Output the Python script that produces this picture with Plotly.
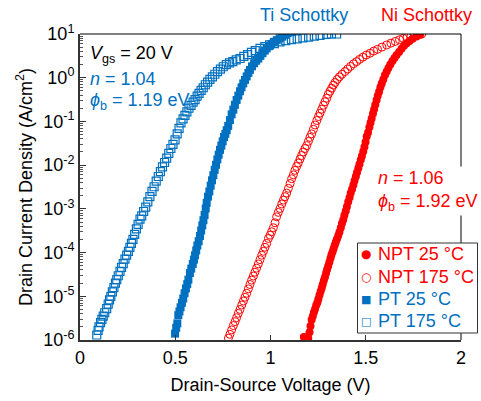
import plotly.graph_objects as go

# ---------------- data ----------------
pt175_v = [0.088,0.095,0.100,0.108,0.115,0.122,0.130,0.140,0.148,0.155,0.162,0.170,0.178,0.186,0.193,0.201,
           0.210,0.218,0.227,0.236,0.245,0.254,0.262,0.270,0.278,0.287,0.296,0.305,0.315,0.324,0.334,0.345,
           0.356,0.367,0.378,0.389,0.400,0.411,0.422,0.433,0.444,0.455,0.466,0.477,0.488,0.499,0.510,0.520,
           0.530,0.541,0.551,0.561,0.572,0.583,0.594,0.604,0.615,0.625,0.636,0.647,0.658,0.670,0.682,0.695,
           0.708,0.722,0.737,0.752,0.768,0.785,0.802,0.820,0.840,0.860,0.880,0.900,0.920,0.945,0.970,0.995,
           1.020,1.050,1.080,1.110,1.140,1.170,1.200,1.230,1.260,1.295,1.320,1.347]
pt175_j = [1.3e-6,1.66e-6,2.0e-6,2.5e-6,2.95e-6,3.5e-6,4.2e-6,5.2e-6,6.6e-6,8.3e-6,1.0e-5,1.26e-5,1.58e-5,2.0e-5,2.4e-5,2.95e-5,
           3.7e-5,4.6e-5,5.6e-5,7.1e-5,8.7e-5,1.07e-4,1.32e-4,1.62e-4,2.0e-4,2.6e-4,3.5e-4,4.4e-4,5.8e-4,6.9e-4,8.7e-4,1.1e-3,
           1.45e-3,1.9e-3,2.5e-3,3.2e-3,4.3e-3,5.5e-3,7.1e-3,9.1e-3,1.15e-2,1.45e-2,1.86e-2,2.4e-2,3.0e-2,3.8e-2,5.2e-2,6.9e-2,
           9.3e-2,0.115,0.138,0.166,0.2,0.234,0.275,0.316,0.38,0.436,0.513,0.589,0.69,0.794,0.912,1.05,
           1.2,1.38,1.58,1.78,2.0,2.19,2.34,2.57,2.75,3.09,3.39,3.8,4.17,4.68,5.13,5.62,
           6.03,6.6,7.08,7.41,7.76,8.13,8.51,8.91,9.33,9.77,10.0,10.0]

pt25_v = [0.499,0.505,0.511,0.516,0.522,0.528,0.535,0.542,0.549,0.556,0.563,0.569,0.577,0.584,0.592,0.598,
          0.604,0.610,0.616,0.623,0.630,0.636,0.642,0.648,0.654,0.660,0.665,0.672,0.679,0.686,0.693,0.700,
          0.707,0.714,0.721,0.728,0.735,0.742,0.749,0.756,0.763,0.770,0.778,0.787,0.796,0.805,0.813,0.822,
          0.831,0.840,0.848,0.857,0.866,0.875,0.884,0.892,0.903,0.914,0.925,0.936,0.947,0.958,0.970,0.980,
          0.992,1.005,1.018,1.033,1.048,1.062,1.076,1.090,1.102,1.112]
pt25_j = [1.4e-6,1.9e-6,2.4e-6,3.7e-6,4.5e-6,5.6e-6,7.1e-6,8.9e-6,1.17e-5,1.51e-5,1.9e-5,2.4e-5,3.4e-5,4.3e-5,5.5e-5,6.9e-5,
          8.7e-5,1.12e-4,1.45e-4,1.82e-4,2.4e-4,3.2e-4,4.2e-4,5.5e-4,7.2e-4,1.02e-3,1.38e-3,1.9e-3,2.5e-3,3.4e-3,4.5e-3,5.9e-3,
          7.8e-3,1.02e-2,1.35e-2,1.74e-2,2.24e-2,2.8e-2,3.5e-2,4.4e-2,5.2e-2,6.3e-2,7.9e-2,0.107,0.145,0.186,0.24,0.309,
          0.389,0.49,0.603,0.741,0.891,1.07,1.29,1.51,1.82,2.14,2.45,2.75,3.16,3.63,4.17,4.68,
          5.25,5.89,6.61,7.24,7.94,8.71,9.55,10.5,11.2,11.7]

npt175_v = [0.779,0.787,0.796,0.805,0.814,0.822,0.831,0.840,0.849,0.858,0.866,0.875,0.884,0.892,0.901,0.910,
            0.918,0.927,0.936,0.945,0.954,0.963,0.971,0.980,0.989,0.998,1.006,1.015,1.024,1.032,1.041,1.050,
            1.059,1.068,1.076,1.085,1.094,1.103,1.111,1.120,1.128,1.137,1.146,1.155,1.163,1.172,1.181,1.190,
            1.199,1.207,1.216,1.225,1.234,1.243,1.252,1.260,1.269,1.278,1.286,1.295,1.303,1.312,1.321,1.330,
            1.339,1.350,1.362,1.375,1.391,1.405,1.420,1.436,1.452,1.468,1.485,1.503,1.522,1.542,1.562,1.585,
            1.610,1.632,1.655,1.677,1.697,1.717,1.737,1.757,1.775,1.794]
npt175_j = [1.1e-6,1.35e-6,1.7e-6,2.14e-6,2.63e-6,3.24e-6,4.07e-6,5.0e-6,6.3e-6,7.8e-6,9.5e-6,1.17e-5,1.48e-5,1.86e-5,2.34e-5,2.9e-5,
            3.55e-5,4.4e-5,5.5e-5,6.9e-5,8.7e-5,1.07e-4,1.32e-4,1.62e-4,2.1e-4,2.5e-4,3.0e-4,3.7e-4,4.8e-4,6.6e-4,8.3e-4,1.02e-3,
            1.29e-3,1.58e-3,1.9e-3,2.3e-3,2.95e-3,3.8e-3,4.9e-3,6.0e-3,7.6e-3,9.3e-3,1.12e-2,1.38e-2,1.66e-2,2.0e-2,2.4e-2,2.8e-2,
            3.5e-2,4.3e-2,5.2e-2,6.6e-2,8.3e-2,0.105,0.129,0.155,0.19,0.234,0.282,0.339,0.417,0.49,0.575,0.676,
            0.776,0.912,1.05,1.2,1.38,1.58,1.82,2.09,2.34,2.63,2.95,3.31,3.63,4.07,4.47,5.01,
            5.62,6.17,6.76,7.41,7.94,8.51,8.91,9.33,9.77,10.0]

npt25_v = [1.175,1.188,1.198,1.205,1.210,1.216,1.222,1.228,1.234,1.240,1.246,1.251,1.257,1.263,1.269,1.274,
           1.280,1.286,1.292,1.297,1.303,1.309,1.315,1.320,1.326,1.331,1.337,1.343,1.349,1.356,1.362,1.369,
           1.375,1.382,1.388,1.395,1.401,1.408,1.415,1.421,1.428,1.435,1.441,1.448,1.454,1.461,1.467,1.474,
           1.480,1.487,1.493,1.499,1.505,1.512,1.519,1.525,1.531,1.538,1.544,1.550,1.557,1.563,1.570,1.577,
           1.584,1.592,1.601,1.610,1.619,1.629,1.640,1.651,1.662,1.675,1.688,1.701,1.715,1.730,1.746,1.767,1.785]
npt25_j = [1.17e-6,1.05e-6,1.1e-6,1.51e-6,2.1e-6,2.9e-6,3.5e-6,4.3e-6,5.1e-6,6.2e-6,7.2e-6,8.5e-6,1.05e-5,1.29e-5,1.55e-5,1.86e-5,
           2.3e-5,2.75e-5,3.4e-5,4.1e-5,4.9e-5,6.0e-5,7.4e-5,8.9e-5,1.05e-4,1.23e-4,1.48e-4,1.74e-4,2.04e-4,2.45e-4,2.95e-4,3.7e-4,
           4.6e-4,5.6e-4,7.1e-4,8.9e-4,1.12e-3,1.45e-3,1.82e-3,2.3e-3,2.8e-3,3.5e-3,4.4e-3,5.5e-3,6.8e-3,8.5e-3,1.05e-2,1.32e-2,
           1.62e-2,2.04e-2,2.6e-2,3.4e-2,4.5e-2,5.6e-2,7.4e-2,9.3e-2,0.117,0.151,0.19,0.24,0.309,0.389,0.479,0.603,
           0.741,0.912,1.15,1.38,1.66,2.0,2.4,2.82,3.31,3.89,4.57,5.37,6.17,6.92,7.76,8.71,9.55]

series_names = ["NPT 25 °C", "NPT 175 °C", "PT 25 °C", "PT 175 °C"]
legend_glyphs = ["●", "○", "■", "□"]

x_ticks = [0, 0.5, 1, 1.5, 2]
x_ticktext = ["0", "0.5", "1", "1.5", "2"]
y_ticks = [1e-6, 1e-5, 1e-4, 1e-3, 1e-2, 1e-1, 1e0, 1e1]
y_ticktext = ["10<sup>-6</sup>", "10<sup>-5</sup>", "10<sup>-4</sup>", "10<sup>-3</sup>",
              "10<sup>-2</sup>", "10<sup>-1</sup>", "10<sup>0</sup>", "10<sup>1</sup>"]

RED = "#FF0000"
BLUE = "#0070C0"
FONT = "Liberation Sans, Arial, sans-serif"
FS = 18
colors = [RED, RED, BLUE, BLUE]

fig = go.Figure()
fig.add_trace(go.Scatter(x=npt25_v, y=npt25_j, mode="markers", name=series_names[0],
                         marker=dict(symbol="circle", size=8, color=RED)))
fig.add_trace(go.Scatter(x=npt175_v, y=npt175_j, mode="markers", name=series_names[1],
                         marker=dict(symbol="circle-open", size=8, color=RED, line=dict(width=1))))
fig.add_trace(go.Scatter(x=pt25_v, y=pt25_j, mode="markers", name=series_names[2],
                         marker=dict(symbol="square", size=8, color=BLUE)))
fig.add_trace(go.Scatter(x=pt175_v, y=pt175_j, mode="markers", name=series_names[3],
                         marker=dict(symbol="square-open", size=8, color=BLUE, line=dict(width=1.2))))

L, R, T, B = 80, 20, 34, 61
W, H = 481, 401
pw, ph = W - L - R, H - T - B

def px(xp):
    return (xp - L) / pw

def py(yp):
    return (H - B - yp) / ph

ann = []
ann.append(dict(text="Ti Schottky", x=px(304), y=py(15), font=dict(color=BLUE, size=FS)))
ann.append(dict(text="Ni Schottky", x=px(426), y=py(15), font=dict(color=RED, size=FS)))
ann.append(dict(text="<i>V</i><sub>gs</sub> = 20 V", x=px(88), y=py(54), xanchor="left",
                font=dict(color="black", size=FS)))
ann.append(dict(text="<i>n</i> = 1.04", x=px(88), y=py(79), xanchor="left",
                font=dict(color=BLUE, size=FS)))
ann.append(dict(text="<i>ϕ</i><sub>b</sub> = 1.19 eV", x=px(88), y=py(101), xanchor="left",
                font=dict(color=BLUE, size=FS)))
ann.append(dict(text="<i>n</i> = 1.06<br><i>ϕ</i><sub>b</sub> = 1.92 eV", x=px(376), y=py(191),
                xanchor="left", align="left", bgcolor="white", font=dict(color=RED, size=FS)))

# custom legend (compact, like the reference)
row_y = [254, 277, 299, 321]
glyph_sizes = [12, 12, 11, 11]
for name, glyph, col, ry, gs in zip(series_names, legend_glyphs, colors, row_y, glyph_sizes):
    ann.append(dict(text=glyph, x=px(366), y=py(ry), xanchor="center",
                    font=dict(color=col, size=gs, family="DejaVu Sans")))
    ann.append(dict(text=name, x=px(376), y=py(ry), xanchor="left",
                    font=dict(color=col, size=FS)))

for a in ann:
    a.update(xref="paper", yref="paper", showarrow=False, yanchor=a.get("yanchor", "middle"))
    a.setdefault("xanchor", "center")

fig.update_layout(
    width=W, height=H,
    margin=dict(l=L, r=R, t=T, b=B, autoexpand=False),
    paper_bgcolor="white", plot_bgcolor="white",
    font=dict(family=FONT, size=FS, color="black"),
    showlegend=False,
    annotations=ann,
    shapes=[
        dict(type="line", xref="paper", yref="paper", x0=0, x1=1, y0=1, y1=1,
             line=dict(color="black", width=1)),
        dict(type="line", xref="paper", yref="paper", x0=1, x1=1, y0=0, y1=1,
             line=dict(color="black", width=1)),
        dict(type="rect", xref="paper", yref="paper", x0=px(357.5), x1=px(477.5),
             y0=py(333), y1=py(243), fillcolor="white", line=dict(color="#333333", width=1),
             layer="above"),
    ],
)
fig.update_xaxes(range=[0, 2], tickvals=x_ticks, ticktext=x_ticktext,
                 ticks="inside", ticklen=5, tickwidth=1, tickcolor="#333333",
                 showline=True, linecolor="#333333", linewidth=2,
                 showgrid=False, zeroline=False,
                 title=dict(text="Drain-Source Voltage (V)", standoff=12, font=dict(size=FS)),
                 tickfont=dict(size=FS))
fig.update_yaxes(type="log", range=[-6, 1], tickvals=y_ticks, ticktext=y_ticktext,
                 ticks="inside", ticklen=6, tickwidth=1, tickcolor="#333333",
                 minor=dict(ticks="inside", ticklen=3, tickcolor="#555555", dtick="D1", showgrid=False),
                 showline=True, linecolor="#333333", linewidth=2,
                 showgrid=False, zeroline=False,
                 title=dict(text="Drain Current Density (A/cm<sup>2</sup>)", standoff=6, font=dict(size=FS)),
                 tickfont=dict(size=FS))

fig.write_html("out.html")
